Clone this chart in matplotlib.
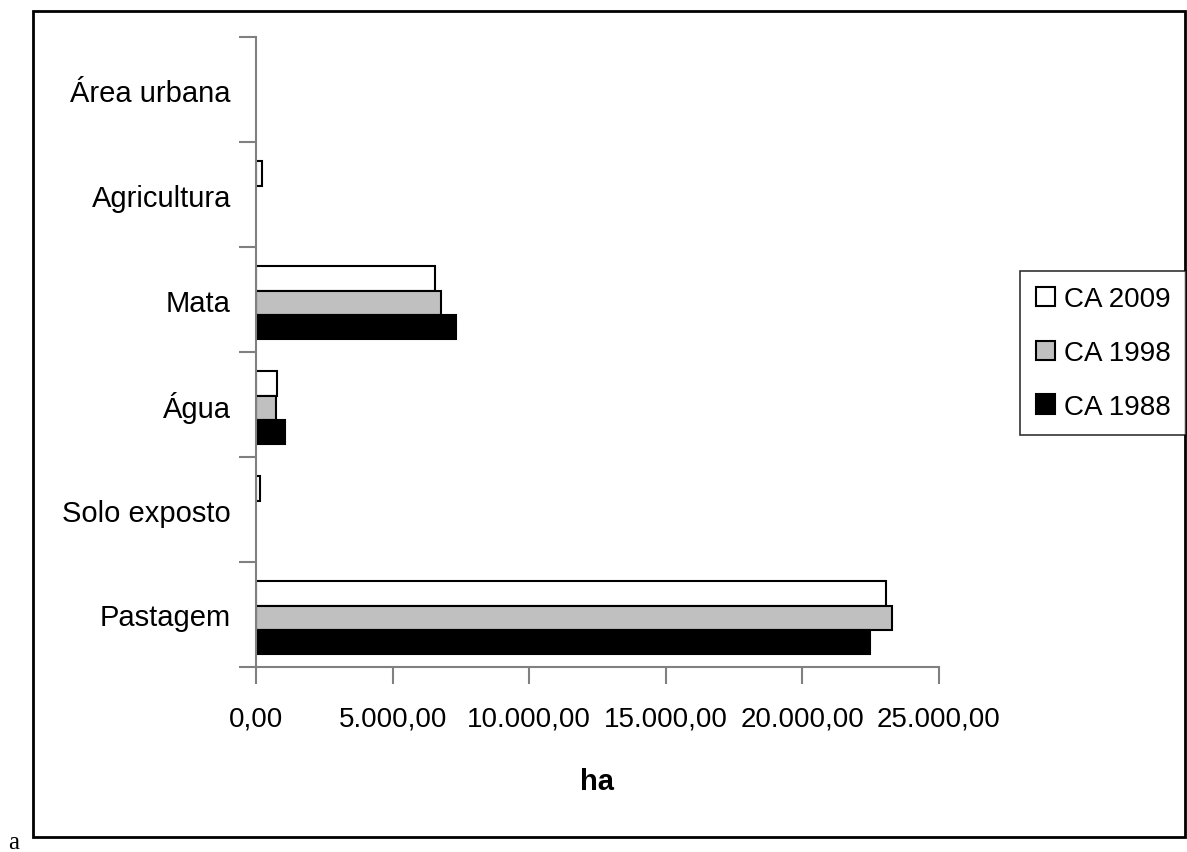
import matplotlib
matplotlib.use("Agg")
import matplotlib.pyplot as plt
import numpy as np
from matplotlib.patches import Rectangle

categories = ["Pastagem", "Solo exposto", "Água", "Mata", "Agricultura", "Área urbana"]
ca2009 = [23050, 150, 760, 6550, 230, 0]
ca1998 = [23270, 0, 730, 6770, 0, 0]
ca1988 = [22460, 0, 1070, 7320, 0, 0]
series_names = ["CA 2009", "CA 1998", "CA 1988"]
xticks = [0, 5000, 10000, 15000, 20000, 25000]
xticklabels = ["0,00", "5.000,00", "10.000,00", "15.000,00", "20.000,00", "25.000,00"]

plt.rcParams['font.family'] = ['Liberation Sans', 'DejaVu Sans']

fig = plt.figure(figsize=(11.87, 8.53), dpi=100)
ax = fig.add_axes([256/1187, (853-668)/853, (939-256)/1187, (668-38)/853])

y = np.arange(len(categories))
h = 0.23
colors = ["white", "#c0c0c0", "black"]
data = [ca2009, ca1998, ca1988]
offs = [h, 0, -h]
for vals, c, o, name in zip(data, colors, offs, series_names):
    vv = np.array(vals, dtype=float)
    mask = vv > 0
    ax.barh(y[mask] + o - 0.03, vv[mask], height=h, color=c, edgecolor="black", linewidth=1.5, label=name)

ax.set_ylim(-0.5, len(categories) - 0.5)
ax.set_xlim(0, 25000)
ax.set_yticks(np.arange(-0.5, len(categories), 1.0))
ax.set_yticklabels([])
ax.set_yticks(y, minor=True)
ax.set_yticklabels(categories, minor=True, fontsize=21)
ax.tick_params(axis='y', which='minor', length=0, pad=18)
ax.tick_params(axis='y', which='major', length=12, color='#808080', width=1.5)
ax.set_xticks(xticks)
ax.set_xticklabels(xticklabels, fontsize=20)
ax.tick_params(axis='x', length=12, color='#808080', width=1.5, pad=16)
for s in ['top', 'right']:
    ax.spines[s].set_visible(False)
for s in ['left', 'bottom']:
    ax.spines[s].set_color('#808080')
    ax.spines[s].set_linewidth(1.5)

ax.set_xlabel("ha", fontsize=21, fontweight='bold', labelpad=25)

handles, labels = ax.get_legend_handles_labels()
leg = fig.legend(handles, labels, loc='center', bbox_to_anchor=(1103/1187, (853-354)/853),
                 fontsize=20, frameon=True, fancybox=False, edgecolor='black',
                 handlelength=0.7, handleheight=0.7, handletextpad=0.3,
                 labelspacing=1.0, borderpad=0.55, borderaxespad=0)
leg.get_frame().set_linewidth(1.2)

fig.patches.append(Rectangle((33/1187, (853-838)/853), (1185-33)/1187, (838-12)/853,
                             transform=fig.transFigure, fill=False, edgecolor='black', linewidth=2))
fig.text(8/1187, 4/853, "a", fontsize=18, family='Liberation Serif', va='baseline', ha='left')

fig.savefig("out.png", dpi=100)
